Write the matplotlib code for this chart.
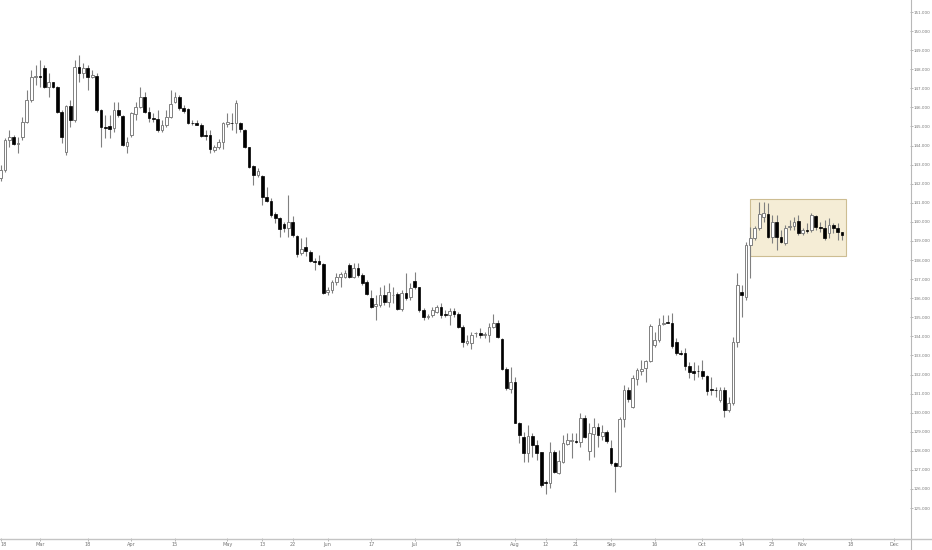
import numpy as np
import pandas as pd
import matplotlib
matplotlib.use("Agg")
import matplotlib.pyplot as plt
from matplotlib.lines import Line2D
from matplotlib.patches import Rectangle

# ---------------- data (GBP/JPY daily, 2019) ----------------
start_date = "2019-02-18"
opens = [142.30, 142.72, 144.29, 144.47, 144.06, 144.47, 145.25, 146.39, 147.62, 147.64,
         148.05, 147.09, 147.32, 147.09, 145.78, 143.68, 146.07, 145.34, 148.13, 147.79,
         148.05, 147.58, 147.66, 145.87, 144.98, 145.03, 144.91, 145.87, 145.55, 143.98,
         144.55, 145.66, 146.04, 146.53, 145.78, 145.43, 145.38, 144.82, 145.08, 145.51,
         146.30, 146.56, 145.95, 145.90, 145.20, 145.17, 145.10, 144.55, 144.54, 143.77,
         143.93, 144.20, 145.12, 145.18, 145.17, 145.17, 144.82, 143.91, 142.93, 142.46,
         142.41, 141.32, 141.11, 140.41, 140.19, 139.87, 139.67, 140.01, 139.28, 138.36,
         138.67, 138.44, 137.97, 137.94, 137.78, 136.33, 136.43, 136.87, 137.13, 137.13,
         137.74, 137.13, 137.57, 137.22, 136.87, 135.99, 135.59, 135.65, 136.17, 135.82,
         136.15, 136.22, 135.42, 136.29, 136.05, 136.90, 136.57, 135.38, 134.99, 135.12,
         135.30, 135.56, 135.15, 135.12, 135.35, 135.17, 134.51, 133.67, 133.67, 134.15,
         134.19, 134.05, 134.07, 134.51, 134.72, 133.85, 132.29, 131.24, 131.59, 129.48,
         128.71, 127.87, 128.80, 128.31, 127.93, 126.39, 126.33, 127.96, 126.86, 127.43,
         128.36, 128.54, 128.54, 128.48, 129.74, 128.01, 128.88, 129.24, 128.80, 129.01,
         128.14, 127.35, 127.21, 129.65, 131.19, 130.32, 131.75, 132.19, 132.33, 132.73,
         133.55, 133.81, 134.66, 134.75, 134.72, 133.72, 133.13, 133.15, 132.45, 132.19,
         132.20, 132.20, 131.92, 131.22, 131.20, 130.67, 131.19, 130.14, 130.49, 133.72,
         136.34, 136.08, 138.79, 139.14, 139.66, 140.27, 140.41, 139.22, 140.01, 139.19,
         138.88, 139.75, 139.79, 140.06, 139.43, 139.57, 139.58, 140.31, 139.72, 139.66,
         139.40, 139.84, 139.66, 139.49]
highs = [142.98, 144.38, 144.82, 144.55, 144.47, 145.51, 146.91, 147.96, 148.22, 148.49,
         148.22, 147.79, 147.35, 147.12, 145.87, 146.13, 146.39, 148.49, 148.75, 148.31,
         148.22, 147.96, 147.79, 145.90, 145.60, 145.60, 146.30, 146.30, 145.60, 144.47,
         145.78, 146.30, 147.05, 146.82, 146.04, 145.69, 145.87, 145.34, 145.87, 146.91,
         146.82, 146.65, 146.13, 145.95, 145.34, 145.34, 145.17, 144.82, 144.82, 144.03,
         144.35, 145.25, 145.69, 145.69, 146.39, 145.25, 144.85, 143.94, 142.98, 142.81,
         142.46, 141.84, 141.24, 140.54, 140.27, 140.01, 141.41, 140.31, 139.31, 139.14,
         139.22, 138.53, 138.09, 138.27, 137.83, 136.61, 136.96, 137.31, 137.39, 137.48,
         137.83, 137.83, 137.86, 137.31, 136.96, 136.43, 136.17, 136.61, 136.69, 136.78,
         136.61, 136.34, 136.43, 137.34, 136.78, 137.39, 136.61, 135.47, 135.17, 135.56,
         135.65, 135.73, 135.38, 135.47, 135.47, 135.29, 134.60, 134.07, 134.25, 134.25,
         134.42, 134.25, 134.69, 135.17, 134.86, 133.90, 132.41, 132.38, 131.89, 129.53,
         129.01, 129.36, 128.92, 128.57, 127.96, 126.47, 128.48, 128.05, 128.05, 128.83,
         128.92, 128.92, 128.92, 130.00, 129.88, 129.45, 129.71, 129.45, 129.36, 129.09,
         128.57, 127.40, 129.79, 131.45, 131.36, 131.98, 132.33, 132.76, 132.76, 134.65,
         134.25, 134.95, 135.12, 135.12, 135.21, 133.90, 133.29, 133.38, 132.67, 132.67,
         132.50, 132.76, 131.98, 131.89, 131.33, 131.33, 131.33, 130.84, 133.98, 137.31,
         136.69, 138.96, 139.75, 139.79, 141.06, 141.06, 140.98, 140.36, 140.36, 139.58,
         139.84, 140.10, 140.27, 140.36, 139.66, 139.93, 140.45, 140.36, 140.01, 140.10,
         140.19, 139.93, 139.93, 139.49]
lows = [142.14, 142.62, 143.94, 144.03, 143.60, 144.29, 145.17, 146.30, 147.18, 147.09,
        147.00, 146.56, 147.00, 145.69, 144.12, 143.51, 144.99, 145.25, 147.35, 147.53,
        146.91, 147.53, 145.78, 143.94, 144.38, 144.38, 144.73, 145.51, 143.98, 143.63,
        144.47, 145.34, 145.95, 145.69, 145.25, 145.25, 144.73, 144.73, 144.99, 145.43,
        146.22, 145.87, 145.69, 145.13, 145.08, 145.06, 144.43, 144.29, 143.60, 143.68,
        143.82, 143.81, 144.99, 144.82, 144.64, 144.73, 143.86, 142.81, 141.93, 142.34,
        140.89, 141.06, 140.27, 139.93, 139.22, 139.49, 139.22, 139.22, 138.18, 138.27,
        138.21, 137.92, 137.48, 137.74, 136.22, 136.17, 136.26, 136.69, 136.61, 137.04,
        137.04, 137.04, 137.13, 136.69, 136.17, 135.47, 134.86, 135.56, 135.65, 135.56,
        135.74, 135.38, 135.35, 135.91, 135.91, 136.47, 135.29, 134.86, 134.90, 135.03,
        135.21, 134.95, 135.03, 134.60, 135.03, 134.42, 133.46, 133.55, 133.32, 133.99,
        133.90, 133.90, 133.72, 134.42, 133.90, 132.24, 131.19, 131.02, 129.45, 128.40,
        127.43, 127.43, 127.70, 127.52, 126.12, 125.74, 126.04, 126.82, 126.79, 127.35,
        128.31, 127.61, 128.40, 128.22, 128.66, 127.52, 127.70, 128.22, 128.57, 128.40,
        127.26, 125.86, 127.17, 129.27, 130.58, 130.23, 131.45, 131.98, 131.63, 132.67,
        133.46, 133.72, 134.60, 134.68, 133.38, 133.02, 133.02, 132.24, 131.80, 131.71,
        131.89, 131.75, 130.93, 130.93, 130.84, 130.58, 129.79, 130.05, 130.40, 133.46,
        135.03, 135.91, 137.04, 139.05, 139.58, 140.01, 139.14, 138.88, 138.53, 138.88,
        138.79, 139.58, 139.58, 139.31, 139.31, 139.40, 139.49, 139.58, 139.49, 139.05,
        139.14, 139.40, 139.05, 139.05]
closes = [142.72, 144.29, 144.47, 144.08, 144.12, 145.25, 146.39, 147.61, 147.65, 147.62,
          147.09, 147.35, 147.09, 145.78, 144.47, 146.07, 145.34, 148.13, 147.79, 148.05,
          147.61, 147.70, 145.87, 144.96, 144.94, 144.85, 145.87, 145.60, 144.03, 144.20,
          145.69, 146.04, 146.53, 145.78, 145.43, 145.38, 144.82, 145.08, 145.51, 146.18,
          146.56, 145.95, 145.83, 145.17, 145.17, 145.10, 144.50, 144.52, 143.81, 143.91,
          144.21, 145.17, 145.22, 145.16, 146.22, 144.85, 143.91, 142.89, 142.46, 142.68,
          141.32, 141.11, 140.36, 140.19, 139.61, 139.67, 140.01, 139.31, 138.32, 138.57,
          138.49, 137.97, 137.92, 137.78, 136.29, 136.43, 136.87, 137.13, 137.27, 137.34,
          137.13, 137.57, 137.22, 136.78, 136.22, 135.56, 135.70, 136.17, 135.82, 136.34,
          136.19, 135.42, 136.26, 135.99, 136.52, 136.57, 135.38, 135.03, 135.06, 135.38,
          135.56, 135.12, 135.10, 135.35, 135.17, 134.51, 133.72, 133.77, 134.07, 134.19,
          134.06, 134.10, 134.51, 134.72, 133.99, 132.29, 131.28, 131.63, 129.48, 128.83,
          127.87, 128.80, 128.31, 127.91, 126.21, 126.30, 127.96, 126.91, 127.48, 128.40,
          128.57, 128.58, 128.48, 129.71, 128.74, 128.92, 129.27, 128.83, 129.01, 128.54,
          127.35, 127.21, 129.65, 131.19, 130.70, 131.80, 132.24, 132.31, 132.73, 134.55,
          133.81, 134.60, 134.72, 134.72, 133.50, 133.11, 133.08, 132.45, 132.15, 132.10,
          132.16, 131.92, 131.15, 131.17, 131.17, 131.19, 130.14, 130.49, 133.72, 136.69,
          136.17, 138.79, 139.14, 139.66, 140.41, 140.48, 139.22, 140.01, 139.22, 138.96,
          139.66, 139.80, 140.01, 139.43, 139.58, 139.52, 140.36, 139.72, 139.66, 139.14,
          139.84, 139.66, 139.49, 139.31]

tick_dates = ["2019-02-18", "2019-03-01", "2019-03-18", "2019-04-01", "2019-04-15",
              "2019-05-01", "2019-05-13", "2019-05-22", "2019-06-03", "2019-06-17",
              "2019-07-01", "2019-07-15", "2019-08-01", "2019-08-12", "2019-08-21",
              "2019-09-02", "2019-09-16", "2019-10-01", "2019-10-14", "2019-10-23",
              "2019-11-01", "2019-11-18", "2019-12-02"]
tick_labels = ["18", "Mar", "18", "Apr", "15", "May", "13", "22", "Jun", "17", "Jul", "15",
               "Aug", "12", "21", "Sep", "16", "Oct", "14", "23", "Nov", "18", "Dec"]

price_ticks = list(range(125, 152))

zone_start = "2019-10-16"
zone_end = "2019-11-15"
zone_top = 141.18
zone_bottom = 138.21

# ---------------- figure ----------------
W, H = 932, 550
fig = plt.figure(figsize=(W / 100, H / 100), dpi=100)
fig.patch.set_facecolor("white")
ax = fig.add_axes([0, 12 / H, 910 / W, 538 / H])
ax.set_facecolor("white")

dates = pd.bdate_range(start_date, periods=len(opens))
x = np.busday_count(np.datetime64(start_date), dates.values.astype("datetime64[D]"))

o = np.array(opens); h = np.array(highs); l = np.array(lows); c = np.array(closes)
up = c >= o

wick_col = "#808080"
ax.vlines(x, l, h, color=wick_col, lw=0.8, zorder=2)
body_h = np.maximum(np.abs(c - o), 0.035)
body_b = np.minimum(o, c)
ax.bar(x[up], body_h[up], bottom=body_b[up], width=0.62, color="white",
       edgecolor="#808080", linewidth=0.7, zorder=3)
ax.bar(x[~up], body_h[~up], bottom=body_b[~up], width=0.62, color="black",
       edgecolor="black", linewidth=0.5, zorder=3)

# consolidation zone
zs = np.busday_count(np.datetime64(start_date), np.datetime64(zone_start))
ze = np.busday_count(np.datetime64(start_date), np.datetime64(zone_end))
ax.add_patch(Rectangle((zs, zone_bottom), ze - zs, zone_top - zone_bottom,
                       facecolor="#f5edd6", edgecolor="#cdbd92", lw=0.8, zorder=1))

ax.set_xlim(-0.15, 208.6)
ax.set_ylim(123.43, 151.63)

tpos = [np.busday_count(np.datetime64(start_date), np.datetime64(d)) for d in tick_dates]
ax.set_xticks(tpos)
ax.set_xticklabels(tick_labels)
ax.get_xticklabels()[0].set_horizontalalignment("left")
ax.set_yticks(price_ticks)
ax.set_yticklabels([f"{v:.3f}" for v in price_ticks])
ax.yaxis.tick_right()
ax.tick_params(axis="y", length=1.8, width=0.5, color="#999999", labelsize=3.0,
               labelcolor="#777777", pad=0.9)
ax.tick_params(axis="x", length=2, width=0.5, color="#999999", labelsize=3.6,
               labelcolor="#777777", pad=1.0)
for s in ax.spines.values():
    s.set_visible(False)

# axis lines spanning the full figure
fig.add_artist(Line2D([910.5 / W, 910.5 / W], [0, 1], transform=fig.transFigure,
                      color="#b8b8b8", lw=0.8))
fig.add_artist(Line2D([0, 1], [1 - 538.5 / H, 1 - 538.5 / H], transform=fig.transFigure,
                      color="#c4c4c4", lw=1.0))

fig.savefig("out.png", dpi=100)
